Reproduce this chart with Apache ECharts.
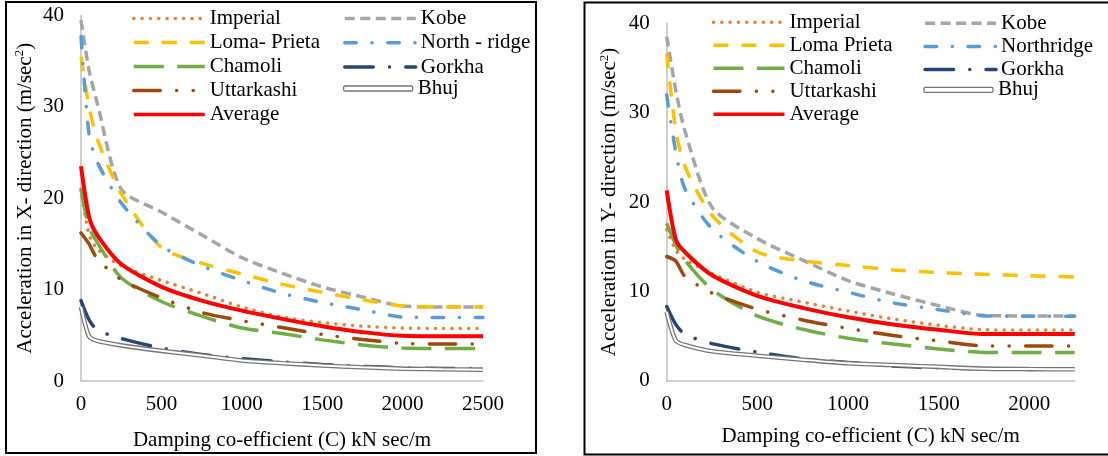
<!DOCTYPE html>
<html>
<head>
<meta charset="utf-8">
<script src="https://cdn.jsdelivr.net/npm/echarts@6/dist/echarts.min.js"></script>
<style>
  html, body { margin: 0; padding: 0; background: #fff; }
  #chart { width: 1108px; height: 456px; }
</style>
</head>
<body>
<div id="chart"></div>
<script>
// Damping co-efficient values (kN sec/m)
const dampX = [0, 50, 100, 250, 500, 750, 1000, 1250, 1500, 1750, 2000, 2250, 2500];
const dampY = [0, 50, 100, 250, 500, 750, 1000, 1250, 1500, 1750, 2000, 2250];

// Acceleration in X- direction (m/sec^2)
const imperialX = [21, 16, 14.5, 12.6, 11.0, 9.6, 8.1, 7.0, 6.4, 6.0, 5.8, 5.75, 5.75];
const kobeX     = [39.5, 34, 30.5, 21, 18.5, 16, 13.5, 11.8, 10.3, 9.2, 8.2, 8.1, 8.1];
const lomaX     = [35.5, 30, 26.5, 20.5, 14.6, 12.9, 11.7, 10.6, 9.7, 8.9, 8.2, 8.1, 8.1];
const northX    = [37.7, 27, 24, 19.5, 14.8, 12.6, 11.0, 9.6, 8.6, 7.8, 7.0, 6.95, 6.95];
const chamoliX  = [21, 16.8, 15.2, 11.3, 8.7, 7.1, 5.8, 5.2, 4.5, 3.95, 3.6, 3.55, 3.55];
const gorkhaX   = [8.8, 6.7, 5.6, 4.65, 3.6, 2.9, 2.45, 2.1, 1.8, 1.6, 1.45, 1.38, 1.38];
const uttarX    = [16.2, 15, 13.4, 11.1, 9.1, 7.5, 6.6, 5.85, 5.1, 4.55, 4.12, 4.05, 4.05];
const bhujX     = [8.1, 4.9, 4.4, 3.9, 3.3, 2.8, 2.25, 1.95, 1.7, 1.5, 1.35, 1.28, 1.24];
const averageX  = [23.5, 18, 16, 12.8, 10.3, 8.8, 7.7, 6.8, 6.0, 5.35, 4.95, 4.9, 4.9];

// Acceleration in Y- direction (m/sec^2)
const imperialY = [16.9, 14.6, 13.6, 12.0, 9.9, 8.8, 7.8, 6.9, 6.2, 5.7, 5.67, 5.67];
const kobeY     = [38.5, 32.5, 28, 19.4, 15.9, 13.5, 11.2, 9.7, 8.4, 7.3, 7.25, 7.25];
const lomaY     = [36.6, 28, 24, 18.5, 14.4, 13.4, 12.9, 12.4, 12.1, 11.9, 11.75, 11.6];
const northY    = [32, 25.6, 21.5, 17, 13.35, 11.2, 9.9, 8.7, 7.95, 7.25, 7.2, 7.2];
const chamoliY  = [17.6, 15.2, 13.5, 10.2, 7.25, 5.75, 4.75, 4.1, 3.55, 3.17, 3.15, 3.15];
const gorkhaY   = [8.3, 6.3, 5.2, 4.15, 3.2, 2.45, 2.05, 1.65, 1.45, 1.32, 1.3, 1.3];
const uttarY    = [13.9, 13.4, 11.7, 9.8, 8.0, 6.8, 5.85, 5.05, 4.45, 3.9, 3.88, 3.88];
const bhujY     = [7.7, 4.5, 4.0, 3.3, 2.8, 2.35, 1.95, 1.75, 1.55, 1.35, 1.3, 1.28];
const averageY  = [21.3, 15.8, 14.4, 11.8, 9.5, 8.15, 7.1, 6.3, 5.7, 5.22, 5.22, 5.22];

// Axis ticks
const yTicks = { min: 0, max: 40, interval: 10 };
const xTicksLeft = { min: 0, max: 2500, interval: 500 };
const xTicksRight = { min: 0, max: 2250, interval: 500 };

const FONT = 'Liberation Serif';
const TXT = { fontFamily: FONT, fontSize: 21, color: '#000' };

// Line styles for each record
const styles = {
  imperial: { color: '#ED7D31', width: 3.5, type: [0.1, 8.2], cap: 'round' },
  kobe:     { color: '#A5A5A5', width: 3.5, type: [10, 5.5], cap: 'butt' },
  loma:     { color: '#FFC000', width: 3.5, type: [15, 13], cap: 'butt' },
  north:    { color: '#5B9BD5', width: 3.5, type: [11.5, 15.7, 0.1, 15.7], cap: 'round' },
  chamoli:  { color: '#70AD47', width: 3.5, type: [30, 13.5], cap: 'butt' },
  gorkha:   { color: '#264478', width: 3.5, type: [28.5, 16.2, 0.1, 16.2], cap: 'round' },
  uttar:    { color: '#9E480E', width: 3.5, type: [26.5, 16.4, 0.1, 16.4, 0.1, 16.4], cap: 'round' },
  bhuj:     { color: '#767676', width: 4.6, type: 'solid' },
  bhujCore: { color: '#ffffff', width: 2.0, type: 'solid' },
  average:  { color: '#FF0000', width: 4, type: 'solid' }
};

function pairs(xs, ys) { return xs.map((x, i) => [x, ys[i]]); }

function lineSeries(name, xs, ys, st, idx) {
  return {
    name: name,
    type: 'line',
    xAxisIndex: idx,
    yAxisIndex: idx,
    data: pairs(xs, ys),
    symbol: 'none',
    smooth: 0.25,
    lineStyle: st,
    itemStyle: { color: st.color },
    emphasis: { disabled: true }
  };
}

function panelSeries(idx, xs, d, names) {
  return [
    lineSeries('Imperial', xs, d.imperial, styles.imperial, idx),
    lineSeries('Kobe', xs, d.kobe, styles.kobe, idx),
    lineSeries(names.loma, xs, d.loma, styles.loma, idx),
    lineSeries(names.north, xs, d.north, styles.north, idx),
    lineSeries('Chamoli', xs, d.chamoli, styles.chamoli, idx),
    lineSeries('Gorkha', xs, d.gorkha, styles.gorkha, idx),
    lineSeries('Uttarkashi', xs, d.uttar, styles.uttar, idx),
    lineSeries('Bhuj', xs, d.bhuj, styles.bhuj, idx),
    // inner white stroke turns the Bhuj line into a double line
    Object.assign(lineSeries(undefined, xs, d.bhuj, styles.bhujCore, idx), { silent: true }),
    lineSeries('Average', xs, d.average, styles.average, idx)
  ];
}

function legend(left, top, names, gap, extra) {
  return Object.assign({
    orient: 'vertical',
    left: left,
    top: top,
    padding: 0,
    itemWidth: 71,
    itemHeight: 14,
    itemGap: gap,
    selectedMode: false,
    textStyle: Object.assign({ lineHeight: 20 }, TXT),
    lineStyle: { width: 3.5 },
    // legend keys are plain line samples, without a marker
    itemStyle: { opacity: 0 },
    data: names
  }, extra || {});
}

function bhujLegend(left, top) {
  return legend(left, top, [{
    name: 'Bhuj',
    icon: 'roundRect',
    itemStyle: { color: '#ffffff', borderColor: '#767676', borderWidth: 1.3, opacity: 1 }
  }], 0, { itemHeight: 5, itemWidth: 69 });
}

function xAxis(idx, ticks, gap) {
  return {
    gridIndex: idx,
    type: 'value',
    min: ticks.min, max: ticks.max, interval: ticks.interval,
    name: 'Damping co-efficient (C) kN sec/m',
    nameLocation: 'middle',
    nameGap: gap,
    nameTextStyle: TXT,
    axisLine: { lineStyle: { color: '#BFBFBF', width: 1.5 } },
    axisTick: { show: false },
    splitLine: { show: false },
    axisLabel: Object.assign({
      margin: 13,
      formatter: v => (v % ticks.interval === 0 ? String(v) : '')
    }, TXT)
  };
}

function yAxis(idx, dir, gap) {
  return {
    gridIndex: idx,
    type: 'value',
    min: yTicks.min, max: yTicks.max, interval: yTicks.interval,
    name: 'Acceleration in ' + dir + '- direction (m/sec{sup|2})',
    nameLocation: 'middle',
    nameGap: gap,
    nameTextStyle: Object.assign({
      lineHeight: 24,
      rich: { sup: { fontFamily: FONT, fontSize: 13, color: '#000', lineHeight: 13, verticalAlign: 'top' } }
    }, TXT),
    axisLine: { show: true, lineStyle: { color: '#BFBFBF', width: 1.5 } },
    axisTick: { show: false },
    splitLine: { show: false },
    axisLabel: Object.assign({ margin: 17 }, TXT)
  };
}

const chart = echarts.init(document.getElementById('chart'), null, { renderer: 'canvas' });

const option = {
  animation: false,
  backgroundColor: '#fff',
  graphic: [
    { type: 'rect', shape: { x: 6, y: 2, width: 530, height: 451 },
      style: { fill: 'none', stroke: '#000', lineWidth: 2 }, silent: true },
    { type: 'rect', shape: { x: 584.5, y: 2.5, width: 540, height: 452 },
      style: { fill: 'none', stroke: '#000', lineWidth: 2 }, silent: true }
  ],
  grid: [
    { left: 81, top: 15.5, width: 402, height: 366.5 },
    { left: 666.7, top: 23.3, width: 408, height: 357.4 }
  ],
  xAxis: [xAxis(0, xTicksLeft, 49), xAxis(1, xTicksRight, 45)],
  yAxis: [yAxis(0, 'X', 44), yAxis(1, 'Y', 45)],
  legend: [
    legend(132, 8, ['Imperial', 'Loma- Prieta', 'Chamoli', 'Uttarkashi', 'Average'], 3.0),
    legend(343, 8, ['Kobe', 'North - ridge', 'Gorkha'], 3.3),
    bhujLegend(343, 78),
    legend(711.7, 11.7, ['Imperial', 'Loma Prieta', 'Chamoli', 'Uttarkashi', 'Average'], 2.0),
    legend(923.3, 12.7, ['Kobe', 'Northridge', 'Gorkha'], 2.2),
    bhujLegend(923.3, 79.3)
  ],
  series: [].concat(
    panelSeries(0, dampX, {
      imperial: imperialX, kobe: kobeX, loma: lomaX, north: northX, chamoli: chamoliX,
      gorkha: gorkhaX, uttar: uttarX, bhuj: bhujX, average: averageX
    }, { loma: 'Loma- Prieta', north: 'North - ridge' }),
    panelSeries(1, dampY, {
      imperial: imperialY, kobe: kobeY, loma: lomaY, north: northY, chamoli: chamoliY,
      gorkha: gorkhaY, uttar: uttarY, bhuj: bhujY, average: averageY
    }, { loma: 'Loma Prieta', north: 'Northridge' })
  )
};

chart.setOption(option);
</script>
</body>
</html>
